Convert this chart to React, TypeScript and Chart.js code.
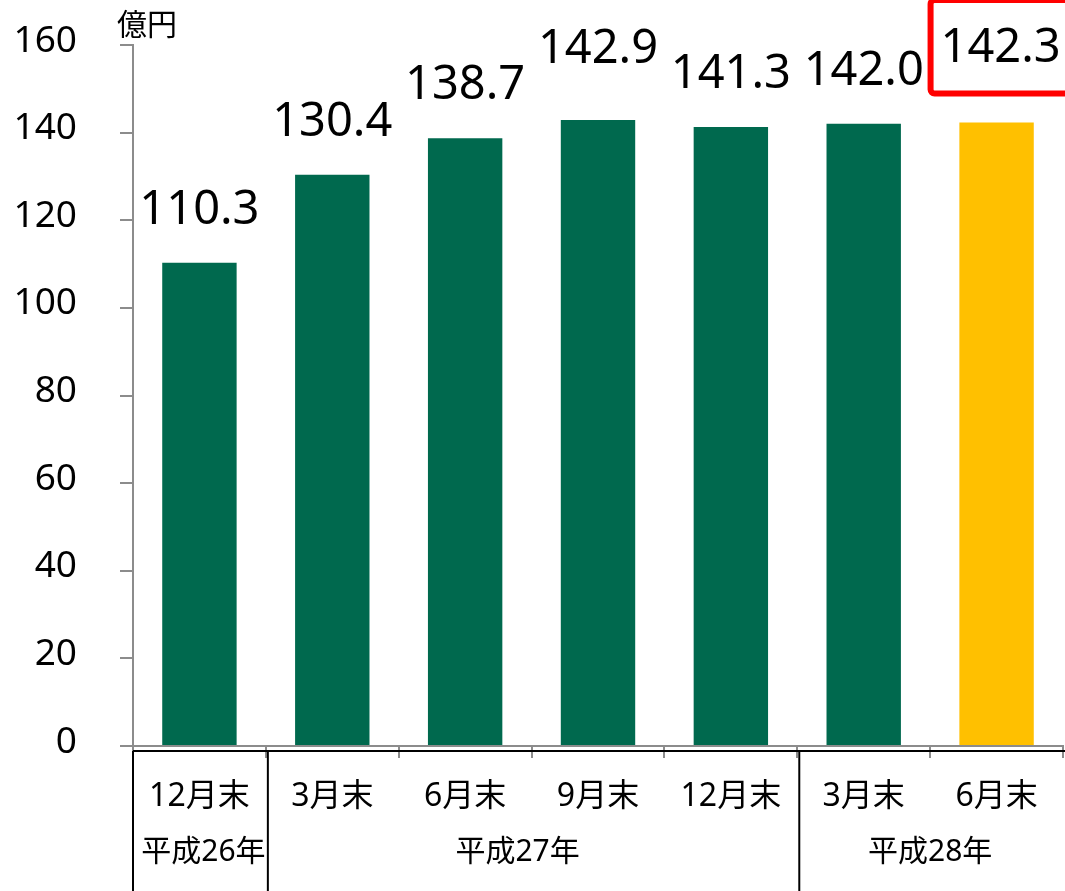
import React, { useEffect, useRef } from "react";
import { Chart, registerables } from "chart.js";

Chart.register(...registerables);

const categories = ["12月末", "3月末", "6月末", "9月末", "12月末", "3月末", "6月末"];
const values = [110.3, 130.4, 138.7, 142.9, 141.3, 142.0, 142.3];
const groups = [
  { label: "平成26年", from: 0, to: 0 },
  { label: "平成27年", from: 1, to: 4 },
  { label: "平成28年", from: 5, to: 6 },
];
const yTicks = [0, 20, 40, 60, 80, 100, 120, 140, 160];
const unitLabel = "億円";
const highlightIndex = 6;

const GREEN = "#00694e";
const YELLOW = "#ffc000";
const GREY = "#8c8c8c";
const NUM_FONT = '"Noto Sans", "DejaVu Sans", sans-serif';
const JP_FONT = '"Noto Sans", "Noto Sans CJK JP", sans-serif';

function roundRect(ctx: any, l: number, t: number, w: number, h: number, r: number) {
  ctx.beginPath();
  ctx.moveTo(l + r, t);
  ctx.lineTo(l + w - r, t);
  ctx.arcTo(l + w, t, l + w, t + r, r);
  ctx.lineTo(l + w, t + h - r);
  ctx.arcTo(l + w, t + h, l + w - r, t + h, r);
  ctx.lineTo(l + r, t + h);
  ctx.arcTo(l, t + h, l, t + h - r, r);
  ctx.lineTo(l, t + r);
  ctx.arcTo(l, t, l + r, t, r);
  ctx.closePath();
}

const labelsPlugin = {
  id: "valueLabels",
  afterDatasetsDraw(chart: any, _args: any, opts: any) {
    const ctx = chart.ctx;
    const meta = chart.getDatasetMeta(0);
    const lifts: number[] = opts.lifts || [];
    ctx.save();
    meta.data.forEach((bar: any, i: number) => {
      const v = values[i];
      const x = bar.x + (i === highlightIndex ? 4 : 0);
      const baseline = bar.y - 39 - (lifts[i] || 0);
      if (i === highlightIndex) {
        ctx.save();
        ctx.fillStyle = "#ffffff";
        ctx.strokeStyle = "#ff0000";
        ctx.lineWidth = 6;
        const l = x - 70;
        const r = x + 70;
        const t = 0;
        const b = baseline + 32;
        roundRect(ctx, l, t, r - l, b - t, 4);
        ctx.fill();
        ctx.stroke();
        ctx.restore();
      }
      ctx.fillStyle = "#000000";
      ctx.font = `47px ${NUM_FONT}`;
      ctx.textAlign = "center";
      ctx.textBaseline = "alphabetic";
      ctx.fillText(v.toFixed(1), x, baseline);
    });
    ctx.restore();
  },
};

const groupPlugin = {
  id: "groupAxis",
  afterDraw(chart: any) {
    const ctx = chart.ctx;
    const xs = chart.scales.x;
    const ca = chart.chartArea;
    const half = (xs.getPixelForValue(1) - xs.getPixelForValue(0)) / 2;
    const lineY = ca.bottom + 5;
    const bottom = chart.height;
    ctx.save();
    ctx.strokeStyle = "#000000";
    ctx.lineWidth = 2;
    ctx.beginPath();
    ctx.moveTo(ca.left, lineY);
    ctx.lineTo(ca.right + 4, lineY);
    ctx.stroke();
    groups.forEach((g, gi) => {
      const left = xs.getPixelForValue(g.from) - half;
      const right = xs.getPixelForValue(g.to) + half;
      const lx = left + (gi === 0 ? 0 : 2);
      ctx.beginPath();
      ctx.moveTo(lx, lineY);
      ctx.lineTo(lx, bottom);
      ctx.stroke();
      ctx.fillStyle = "#000000";
      ctx.font = `30px ${JP_FONT}`;
      ctx.textAlign = "center";
      ctx.textBaseline = "middle";
      const shift = gi === 1 ? -14 : gi === 0 ? 4 : 0;
      ctx.fillText(g.label, (left + right) / 2 + shift, 852);
    });
    ctx.font = `30px ${JP_FONT}`;
    ctx.textAlign = "left";
    ctx.textBaseline = "middle";
    ctx.fillText(unitLabel, ca.left - 16, 26);
    ctx.restore();
  },
};

export default function App() {
  const ref = useRef<HTMLCanvasElement>(null);
  useEffect(() => {
    if (!ref.current) return;
    const chart = new Chart(ref.current, {
      type: "bar",
      data: {
        labels: categories,
        datasets: [
          {
            data: values,
            backgroundColor: values.map((_, i) => (i === highlightIndex ? YELLOW : GREEN)),
            barPercentage: 0.56,
            categoryPercentage: 1,
          },
        ],
      },
      options: {
        animation: false,
        responsive: false,
        maintainAspectRatio: false,
        layout: { padding: { left: 0, top: 45, right: 2, bottom: 0 } },
        plugins: {
          legend: { display: false },
          tooltip: { enabled: false },
          title: { display: false },
          valueLabels: { lifts: [0, 0, 0, 18, 0, 0, 22] },
        } as any,
        scales: {
          x: {
            offset: true,
            grid: {
              display: true,
              offset: true,
              drawOnChartArea: false,
              drawTicks: true,
              tickLength: 12,
              color: GREY,
              lineWidth: 2,
            },
            border: { display: true, color: GREY, width: 2 },
            ticks: {
              color: "#000000",
              font: { size: 32, family: JP_FONT },
              padding: 20,
              maxRotation: 0,
              autoSkip: false,
            },
            afterFit(scale: any) {
              scale.height = 145;
              scale.paddingLeft = 0;
              scale.paddingRight = 0;
            },
          },
          y: {
            min: 0,
            max: 160,
            afterBuildTicks(scale: any) {
              scale.ticks = yTicks.map((v) => ({ value: v }));
            },
            grid: {
              display: true,
              drawOnChartArea: false,
              drawTicks: true,
              tickLength: 13,
              color: GREY,
              lineWidth: 2,
            },
            border: { display: true, color: GREY, width: 2 },
            ticks: {
              color: "#000000",
              font: { size: 37, family: NUM_FONT },
              padding: 43,
              labelOffset: -4,
            },
            afterFit(scale: any) {
              scale.width = 133;
              scale.paddingTop = 0;
              scale.paddingBottom = 0;
            },
          },
        },
      },
      plugins: [labelsPlugin, groupPlugin],
    });
    return () => chart.destroy();
  }, []);
  return (
    <div style={{ position: "fixed", left: 0, top: 0, width: 1065, height: 891, background: "#fff" }}>
      <canvas ref={ref} width={1065} height={891} style={{ width: 1065, height: 891, display: "block" }} />
    </div>
  );
}
